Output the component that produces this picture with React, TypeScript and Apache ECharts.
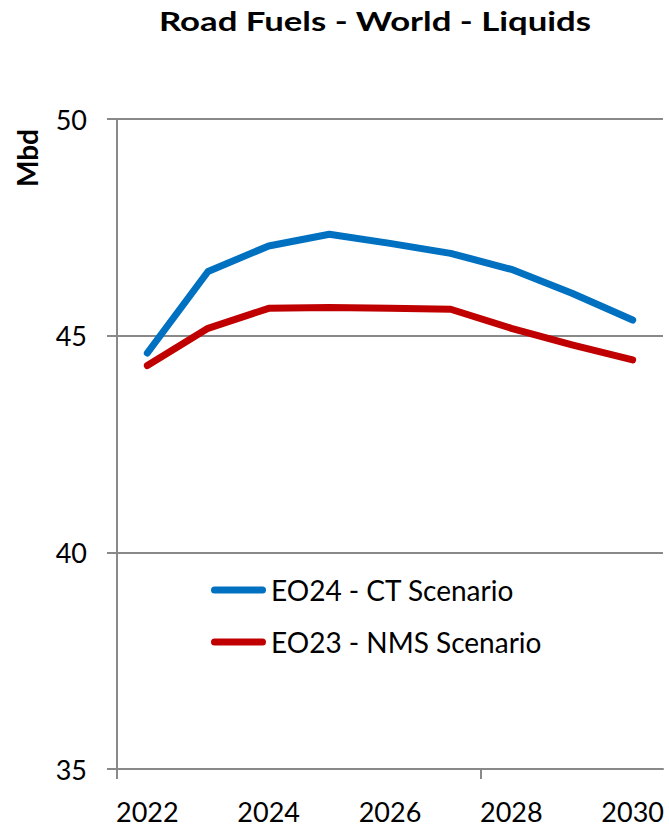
import React, { useEffect, useRef } from "react";
import * as echarts from "echarts";

const years = ["2022", "2023", "2024", "2025", "2026", "2027", "2028", "2029", "2030"];
const ct24 = [44.6, 46.48, 47.07, 47.34, 47.13, 46.9, 46.53, 45.98, 45.36];
const nms23 = [44.31, 45.17, 45.63, 45.65, 45.63, 45.61, 45.17, 44.79, 44.44];
const seriesNames = ["EO24 - CT Scenario", "EO23 - NMS Scenario"];
const yTicks = { min: 35, max: 50, interval: 5 };
const xTickBoundaries = [0, 6];
const titleText = "Road Fuels - World - Liquids";
const unitText = "Mbd";

const FONT = "Lato, 'Noto Sans', sans-serif";
const GREY = "#898989";
const capsule = "path://M3.5,0 H51.5 A3.5,3.5 0 0 1 51.5,7 H3.5 A3.5,3.5 0 0 1 3.5,0 Z";

export default function App() {
  const ref = useRef<HTMLDivElement>(null);
  useEffect(() => {
    document.body.style.margin = "0";
    if (!ref.current) return;
    const chart = echarts.init(ref.current, undefined, { renderer: "svg" });
    chart.setOption({
      animation: false,
      backgroundColor: "#ffffff",
      grid: { left: 117, right: 6, top: 119, bottom: 59, containLabel: false },
      graphic: [
        {
          type: "text",
          x: 375,
          y: 8,
          scaleX: 1.31,
          style: {
            text: titleText,
            fontFamily: FONT,
            fontWeight: "bold",
            fontSize: 26.5,
            fill: "#000",
            textAlign: "center",
            textVerticalAlign: "top",
          },
        },
        {
          type: "text",
          x: 27,
          y: 158,
          rotation: Math.PI / 2,
          style: {
            text: unitText,
            fontFamily: FONT,
            fontWeight: "bold",
            fontSize: 28,
            fill: "#000",
            textAlign: "center",
            textVerticalAlign: "middle",
          },
        },
      ],
      legend: {
        orient: "vertical",
        left: 206,
        top: 570,
        itemWidth: 55,
        itemHeight: 7,
        itemGap: 22,
        icon: capsule,
        textStyle: { fontFamily: FONT, fontSize: 28, color: "#000", lineHeight: 30 },
        data: seriesNames,
      },
      xAxis: [
        {
          type: "category",
          data: years,
          boundaryGap: true,
          axisLine: { show: true, lineStyle: { color: GREY, width: 2 } },
          axisTick: { show: false },
          axisLabel: { interval: 1, margin: 29, fontFamily: FONT, fontSize: 27, color: "#000" },
          splitLine: { show: false },
        },
        {
          type: "value",
          position: "bottom",
          min: 0,
          max: years.length,
          axisLine: { show: false },
          axisLabel: { show: false },
          splitLine: { show: false },
          axisTick: { show: true, customValues: xTickBoundaries, length: 10, lineStyle: { color: GREY, width: 2 } },
        },
      ],
      yAxis: {
        type: "value",
        min: yTicks.min,
        max: yTicks.max,
        interval: yTicks.interval,
        axisLine: { show: true, lineStyle: { color: GREY, width: 2 } },
        axisTick: { show: true, length: 10, lineStyle: { color: GREY, width: 2 } },
        axisLabel: { margin: 30, fontFamily: FONT, fontSize: 27, color: "#000" },
        splitLine: { show: true, lineStyle: { color: GREY, width: 2 } },
      },
      series: [
        {
          name: seriesNames[0],
          type: "line",
          xAxisIndex: 0,
          data: ct24,
          showSymbol: false,
          symbol: "none",
          color: "#0070C0",
          lineStyle: { width: 7, color: "#0070C0", cap: "round", join: "round" },
        },
        {
          name: seriesNames[1],
          type: "line",
          xAxisIndex: 0,
          data: nms23,
          showSymbol: false,
          symbol: "none",
          color: "#C00000",
          lineStyle: { width: 7, color: "#C00000", cap: "round", join: "round" },
        },
      ],
    });
    return () => chart.dispose();
  }, []);
  return <div ref={ref} style={{ width: 669, height: 828 }} />;
}
